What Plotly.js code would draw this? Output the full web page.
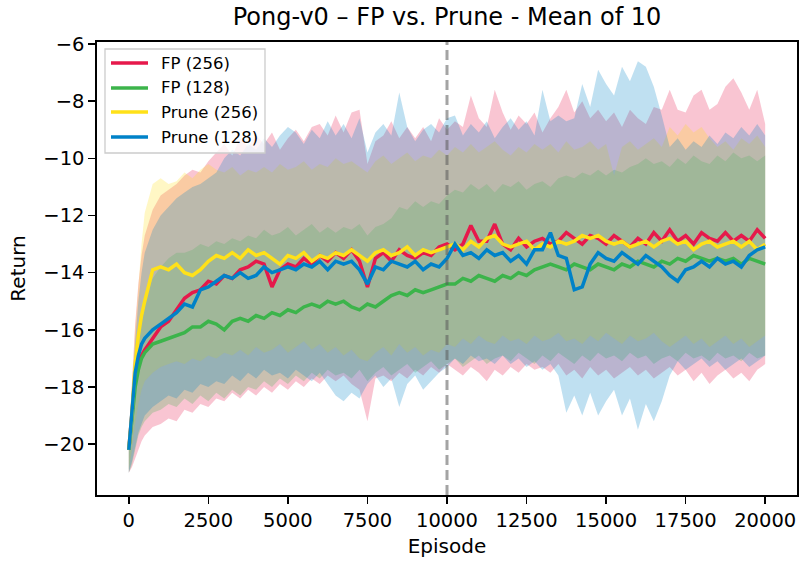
<!DOCTYPE html>
<html>
<head>
<meta charset="utf-8">
<script src="https://cdn.plot.ly/plotly-3.0.1.min.js"></script>
<style>
  html, body { margin: 0; padding: 0; background: #fff; }
  #chart { width: 799px; height: 561px; }
</style>
</head>
<body>
<div id="chart"></div>
<script>
// Episode grid shared by every run
const episodes = [
  0,100,200,300,400,500,750,1000,1250,1500,
  1750,2000,2250,2500,2750,3000,3250,3500,3750,4000,
  4250,4500,4750,5000,5250,5500,5750,6000,6250,6500,
  6750,7000,7250,7500,7750,8000,8250,8500,8750,9000,
  9250,9500,9750,10000,10250,10500,10750,11000,11250,11500,
  11750,12000,12250,12500,12750,13000,13250,13500,13750,14000,
  14250,14500,14750,15000,15250,15500,15750,16000,16250,16500,
  16750,17000,17250,17500,17750,18000,18250,18500,18750,19000,
  19250,19500,19750,20000
];

// Mean return over 10 seeds
const fp256Mean = [
  -20.2,-18.8,-17.6,-17.1,-16.9,-16.7,-16.3,-15.9,-15.7,-15.3,
  -14.9,-14.7,-14.6,-14.3,-14.4,-14.1,-14.2,-13.9,-13.8,-13.6,
  -13.7,-14.5,-13.9,-13.7,-13.8,-13.5,-13.7,-13.4,-13.6,-13.3,
  -13.5,-13.2,-13.6,-14.5,-13.5,-13.3,-13.6,-13.2,-13.4,-13.5,
  -13.3,-13.4,-13.1,-13.0,-13.2,-13.0,-12.35,-12.9,-12.9,-12.3,
  -13.0,-13.2,-12.8,-13.1,-12.9,-12.8,-13.0,-12.9,-12.6,-12.8,
  -13.0,-12.7,-12.8,-13.0,-12.7,-12.9,-13.1,-12.8,-13.0,-12.6,
  -12.9,-12.5,-12.9,-12.7,-13.0,-12.6,-12.8,-12.9,-12.6,-12.9,
  -12.7,-12.9,-12.5,-12.8
];
const fp128Mean = [
  -20.2,-19.0,-18.0,-17.4,-17.0,-16.8,-16.5,-16.4,-16.3,-16.2,
  -16.1,-15.9,-15.9,-15.7,-15.8,-16.0,-15.7,-15.6,-15.7,-15.5,
  -15.6,-15.4,-15.5,-15.3,-15.4,-15.2,-15.1,-15.2,-15.0,-15.1,
  -15.0,-15.2,-15.3,-15.1,-15.2,-15.0,-14.8,-14.7,-14.8,-14.6,
  -14.7,-14.6,-14.5,-14.4,-14.4,-14.2,-14.3,-14.1,-14.2,-14.3,
  -14.1,-14.2,-14.0,-14.1,-13.9,-13.8,-13.7,-13.8,-13.9,-13.7,
  -13.8,-13.9,-13.7,-13.8,-13.9,-13.7,-13.8,-13.6,-13.7,-13.8,
  -13.6,-13.7,-13.5,-13.6,-13.4,-13.5,-13.6,-13.5,-13.6,-13.5,
  -13.7,-13.5,-13.6,-13.7
];
const prune256Mean = [
  -20.2,-18.9,-17.2,-16.2,-15.5,-15.0,-13.9,-13.8,-13.9,-13.7,
  -14.0,-14.1,-13.9,-13.6,-13.4,-13.5,-13.3,-13.5,-13.2,-13.4,
  -13.3,-13.5,-13.7,-13.4,-13.5,-13.3,-13.6,-13.4,-13.5,-13.3,
  -13.4,-13.2,-13.4,-13.6,-13.3,-13.2,-13.4,-13.3,-13.1,-13.4,
  -13.2,-13.3,-13.2,-13.1,-13.0,-13.2,-12.9,-13.1,-12.8,-12.7,
  -13.0,-13.1,-13.0,-12.9,-13.2,-13.0,-13.1,-12.9,-13.0,-12.9,
  -12.7,-12.8,-12.7,-12.9,-13.0,-12.9,-13.1,-13.0,-12.9,-13.1,
  -12.9,-12.8,-13.0,-12.9,-13.2,-13.0,-12.9,-13.1,-13.0,-12.9,
  -13.1,-12.9,-13.2,-13.0
];
const prune128Mean = [
  -20.2,-18.8,-17.5,-16.9,-16.5,-16.3,-16.0,-15.8,-15.6,-15.4,
  -15.1,-15.2,-14.6,-14.5,-14.3,-14.1,-14.2,-14.0,-14.2,-14.1,
  -13.8,-14.0,-13.9,-13.8,-13.9,-13.7,-13.8,-13.6,-13.9,-13.6,
  -13.7,-13.6,-13.9,-14.4,-13.8,-13.9,-13.6,-13.7,-13.8,-13.6,
  -13.9,-13.7,-13.8,-13.5,-13.0,-13.4,-13.3,-13.5,-13.2,-13.4,
  -13.3,-13.6,-13.4,-13.7,-13.2,-13.2,-12.6,-13.4,-13.5,-14.6,
  -14.5,-13.7,-13.3,-13.5,-13.6,-13.3,-13.5,-13.7,-13.4,-13.6,
  -13.8,-14.1,-14.3,-13.9,-13.8,-13.6,-13.8,-13.5,-13.7,-13.6,
  -13.8,-13.4,-13.2,-13.1
];

// Upper edge of the spread band
const fp256Upper = [
  -19.8,-17.8,-15.8,-14.4,-13.4,-12.7,-11.8,-11.3,-11.1,-10.9,
  -10.6,-10.4,-10.5,-10.1,-9.8,-9.5,-9.9,-9.3,-9.6,-9.2,
  -9.5,-9.1,-9.7,-9.3,-9.0,-9.4,-8.9,-8.8,-9.2,-8.5,
  -9.1,-8.4,-8.3,-10.2,-9.4,-9.2,-8.7,-9.3,-8.9,-9.3,
  -8.9,-9.4,-8.6,-9.0,-8.7,-8.9,-7.8,-8.6,-8.9,-7.6,
  -8.4,-9.0,-8.5,-8.8,-8.4,-9.1,-8.6,-8.2,-7.6,-8.4,
  -8.0,-8.6,-8.3,-8.7,-8.4,-8.9,-8.3,-8.6,-8.8,-8.2,
  -8.3,-7.6,-8.3,-8.4,-7.8,-7.6,-8.3,-8.1,-7.5,-7.2,
  -7.7,-8.3,-7.6,-8.8
];
const fp128Upper = [
  -19.8,-18.2,-17.0,-16.0,-15.4,-14.9,-14.2,-13.8,-13.5,-13.3,
  -13.3,-13.2,-13.0,-13.1,-12.9,-13.0,-12.8,-12.9,-12.7,-12.8,
  -12.5,-12.7,-12.6,-12.4,-12.7,-12.5,-12.3,-12.6,-12.4,-12.6,
  -12.4,-12.5,-12.3,-12.7,-12.4,-12.3,-12.1,-11.7,-11.8,-11.5,
  -11.7,-11.5,-11.6,-11.3,-11.1,-11.2,-10.9,-11.1,-10.9,-11.2,
  -10.9,-11.0,-10.8,-11.1,-10.9,-10.8,-11.0,-10.7,-10.6,-10.7,
  -10.5,-10.6,-10.4,-10.6,-10.4,-10.5,-10.3,-10.2,-10.0,-10.2,
  -10.1,-10.3,-10.0,-10.2,-9.9,-10.1,-10.2,-9.9,-10.1,-9.8,
  -10.0,-9.9,-10.1,-9.9
];
const prune256Upper = [
  -19.8,-17.8,-16.0,-14.5,-13.0,-11.9,-10.9,-10.7,-10.9,-10.8,
  -10.5,-10.7,-10.4,-10.2,-10.4,-10.5,-10.3,-10.6,-10.4,-10.5,
  -10.3,-10.5,-10.2,-10.4,-10.3,-10.1,-10.4,-10.2,-10.3,-10.0,
  -10.2,-10.1,-10.3,-10.5,-10.1,-9.9,-10.2,-10.0,-9.8,-10.1,
  -9.9,-10.0,-9.7,-9.9,-9.6,-9.8,-9.5,-9.8,-9.6,-9.4,
  -9.7,-9.9,-9.6,-9.8,-9.5,-9.7,-9.5,-9.8,-9.4,-9.7,
  -9.6,-9.4,-9.7,-9.5,-10.6,-9.6,-9.4,-9.7,-9.5,-9.3,
  -9.6,-8.9,-9.2,-8.8,-9.1,-8.9,-9.3,-9.6,-9.4,-9.7,
  -9.3,-9.5,-9.2,-9.6
];
const prune128Upper = [
  -19.8,-18.0,-16.4,-15.0,-14.0,-13.3,-12.5,-12.0,-11.7,-11.4,
  -11.2,-11.0,-10.9,-10.7,-10.5,-10.0,-9.7,-9.9,-9.5,-9.7,
  -9.3,-9.6,-9.2,-8.9,-9.1,-9.5,-9.0,-9.3,-8.7,-9.2,
  -8.8,-9.3,-8.6,-9.8,-9.1,-8.8,-9.2,-7.7,-8.9,-9.4,
  -9.0,-8.8,-9.1,-8.6,-8.5,-9.2,-8.8,-9.1,-8.7,-9.3,
  -8.9,-8.6,-9.0,-8.7,-9.2,-7.6,-8.7,-8.5,-8.7,-8.6,
  -7.4,-8.2,-6.9,-7.4,-7.8,-6.8,-7.3,-6.6,-6.8,-7.5,
  -8.5,-9.6,-9.3,-9.7,-9.4,-9.6,-9.2,-9.5,-9.1,-9.3,
  -8.9,-9.2,-8.8,-9.2
];

// Lower edge of the spread band
const fp256Lower = [
  -21.0,-20.8,-20.5,-20.2,-19.9,-19.7,-19.4,-19.3,-19.1,-19.2,
  -18.8,-18.9,-18.6,-18.7,-18.4,-18.5,-18.2,-18.4,-18.1,-18.3,
  -18.0,-18.2,-17.9,-18.1,-17.8,-18.0,-17.7,-17.9,-17.6,-17.8,
  -17.6,-17.9,-18.1,-19.2,-17.7,-17.6,-17.8,-17.5,-17.7,-17.4,
  -17.6,-17.3,-17.5,-17.2,-17.4,-17.6,-17.3,-17.5,-17.8,-17.4,
  -17.6,-17.3,-17.5,-17.2,-17.4,-17.3,-17.5,-17.2,-17.6,-17.4,
  -17.7,-17.3,-17.6,-17.4,-17.7,-17.5,-17.3,-17.6,-17.4,-17.7,
  -17.5,-17.3,-17.6,-17.4,-17.8,-17.5,-17.9,-17.6,-17.4,-17.7,
  -17.5,-17.8,-17.4,-17.2
];
const fp128Lower = [
  -21.0,-20.7,-20.2,-19.7,-19.4,-19.2,-18.9,-18.8,-18.6,-18.7,
  -18.4,-18.6,-18.3,-18.5,-18.2,-18.4,-18.1,-18.3,-18.0,-18.1,
  -17.8,-18.0,-17.7,-17.9,-17.6,-17.8,-17.5,-17.7,-17.4,-17.6,
  -17.5,-17.7,-17.4,-17.8,-17.5,-17.3,-17.6,-17.4,-17.2,-17.5,
  -17.3,-17.1,-17.4,-17.2,-17.0,-17.3,-17.1,-16.9,-17.2,-17.0,
  -16.9,-17.1,-16.8,-17.0,-17.2,-16.9,-17.1,-16.8,-17.0,-17.2,
  -16.9,-17.1,-16.8,-17.0,-16.9,-17.1,-16.8,-17.0,-16.9,-17.2,
  -17.0,-16.9,-17.1,-16.8,-17.0,-16.9,-17.1,-16.8,-17.0,-16.9,
  -17.1,-16.8,-17.0,-16.9
];
const prune256Lower = [
  -20.9,-20.2,-19.3,-18.6,-18.1,-17.8,-17.5,-17.3,-17.2,-17.1,
  -17.2,-17.0,-17.1,-16.9,-17.0,-16.8,-16.9,-16.7,-16.9,-16.6,
  -16.8,-16.7,-16.5,-16.8,-16.6,-16.4,-16.7,-16.5,-16.8,-16.6,
  -16.9,-16.7,-17.0,-17.1,-16.8,-16.6,-16.9,-16.5,-16.8,-16.6,
  -16.9,-16.7,-16.8,-16.5,-16.6,-16.3,-16.5,-16.2,-16.4,-16.5,
  -16.2,-16.4,-16.3,-16.5,-16.2,-16.4,-16.3,-16.1,-16.4,-16.3,
  -16.5,-16.2,-16.4,-16.1,-16.3,-16.5,-16.2,-16.4,-16.3,-16.1,
  -16.4,-16.6,-16.4,-16.2,-16.5,-16.3,-16.6,-16.4,-16.2,-16.5,
  -16.3,-16.6,-16.4,-16.2
];
const prune128Lower = [
  -21.0,-20.6,-20.1,-19.6,-19.3,-19.0,-18.7,-18.5,-18.3,-18.4,
  -18.1,-18.2,-17.9,-18.0,-17.8,-17.9,-17.6,-17.8,-17.5,-17.7,
  -17.4,-17.6,-17.5,-17.7,-17.4,-17.6,-17.8,-17.5,-17.9,-18.3,
  -18.5,-18.2,-18.4,-17.9,-17.6,-18.0,-17.7,-18.7,-17.9,-17.6,
  -18.1,-17.8,-17.5,-17.3,-17.0,-17.2,-16.9,-17.1,-17.0,-17.2,
  -16.9,-17.2,-17.0,-17.3,-17.1,-17.4,-17.2,-17.6,-18.9,-18.3,
  -19.0,-18.2,-19.0,-18.5,-18.1,-19.0,-18.4,-19.5,-18.6,-19.2,
  -18.5,-17.6,-17.1,-17.4,-17.2,-17.0,-17.3,-17.1,-17.4,-17.2,
  -17.0,-17.3,-17.1,-16.9
];

const seriesNames = ['FP (256)', 'FP (128)', 'Prune (256)', 'Prune (128)'];
const xTicks = [0, 2500, 5000, 7500, 10000, 12500, 15000, 17500, 20000];
const yTicks = [-20, -18, -16, -14, -12, -10, -8, -6];
const pruneStart = 10000;

const series = [
  { name: seriesNames[0], mean: fp256Mean, lo: fp256Lower, hi: fp256Upper, rgb: [230, 25, 75] },
  { name: seriesNames[1], mean: fp128Mean, lo: fp128Lower, hi: fp128Upper, rgb: [60, 180, 75] },
  { name: seriesNames[2], mean: prune256Mean, lo: prune256Lower, hi: prune256Upper, rgb: [255, 225, 25] },
  { name: seriesNames[3], mean: prune128Mean, lo: prune128Lower, hi: prune128Upper, rgb: [0, 130, 200] }
];
const rgba = (c, a) => `rgba(${c[0]},${c[1]},${c[2]},${a})`;

const traces = [];
// shaded spread bands first, so the mean curves sit on top
series.forEach(s => {
  traces.push({
    x: episodes, y: s.lo, type: 'scatter', mode: 'lines',
    line: { width: 0, color: rgba(s.rgb, 0) }, hoverinfo: 'skip', showlegend: false
  });
  traces.push({
    x: episodes, y: s.hi, type: 'scatter', mode: 'lines', fill: 'tonexty',
    fillcolor: rgba(s.rgb, 0.25),
    line: { width: 0, color: rgba(s.rgb, 0) }, hoverinfo: 'skip', showlegend: false
  });
});
series.forEach(s => {
  traces.push({
    x: episodes, y: s.mean, type: 'scatter', mode: 'lines', name: s.name,
    line: { width: 3.5, color: rgba(s.rgb, 1) }, showlegend: false
  });
});

// plot-area geometry (pixels) for the hand-placed legend box
const W = 799, H = 561, mL = 97, mR = 2, mT = 42, mB = 66;
const pw = W - mL - mR, ph = H - mT - mB;
const px = v => (v - mL) / pw;
const py = v => (H - mB - v) / ph;

const shapes = [
  {
    type: 'line', xref: 'x', yref: 'paper', x0: pruneStart, x1: pruneStart, y0: 0, y1: 1,
    line: { color: 'rgba(90,90,90,0.55)', width: 3, dash: '10px,5px' }, layer: 'above'
  },
  {
    type: 'rect', xref: 'paper', yref: 'paper',
    x0: px(105), x1: px(265), y0: py(153), y1: py(49),
    line: { color: 'rgba(204,204,204,1)', width: 1.3 }, fillcolor: 'rgba(255,255,255,0.8)', layer: 'above'
  }
];
const annotations = [];
const rowY = [63, 88, 112, 137];
series.forEach((s, i) => {
  shapes.push({
    type: 'line', xref: 'paper', yref: 'paper',
    x0: px(111), x1: px(148), y0: py(rowY[i]), y1: py(rowY[i]),
    line: { color: rgba(s.rgb, 1), width: 3.5 }, layer: 'above'
  });
  annotations.push({
    xref: 'paper', yref: 'paper', x: px(159), y: py(rowY[i]),
    xanchor: 'left', yanchor: 'middle', showarrow: false,
    text: s.name, font: { family: 'DejaVu Sans', size: 16.5, color: '#000' }
  });
});

const axisCommon = {
  showgrid: false, zeroline: false, showline: true, mirror: true,
  linecolor: '#000', linewidth: 1.6, ticks: 'outside', ticklen: 7, tickwidth: 1.6,
  tickcolor: '#000', tickfont: { family: 'DejaVu Sans', size: 19.5, color: '#000' }
};

const layout = {
  width: W, height: H,
  margin: { l: mL, r: mR, t: mT, b: mB, pad: 0 },
  paper_bgcolor: '#fff', plot_bgcolor: '#fff',
  font: { family: 'DejaVu Sans', color: '#000' },
  title: {
    text: 'Pong-v0 \u2013 FP vs. Prune - Mean of 10',
    font: { family: 'DejaVu Sans', size: 24, color: '#000' },
    xref: 'paper', x: 0.5, xanchor: 'center', yref: 'container', y: 1 - 17 / H, yanchor: 'middle'
  },
  xaxis: Object.assign({}, axisCommon, {
    range: [-1000, 21000], tickvals: xTicks, ticktext: xTicks.map(String),
    title: { text: 'Episode', font: { family: 'DejaVu Sans', size: 20, color: '#000' }, standoff: 8 }
  }),
  yaxis: Object.assign({}, axisCommon, {
    range: [-21.78, -5.93], tickvals: yTicks,
    title: { text: 'Return', font: { family: 'DejaVu Sans', size: 20, color: '#000' }, standoff: 12 }
  }),
  showlegend: false,
  shapes: shapes,
  annotations: annotations
};

Plotly.newPlot('chart', traces, layout, { displayModeBar: false, staticPlot: true });
</script>
</body>
</html>
